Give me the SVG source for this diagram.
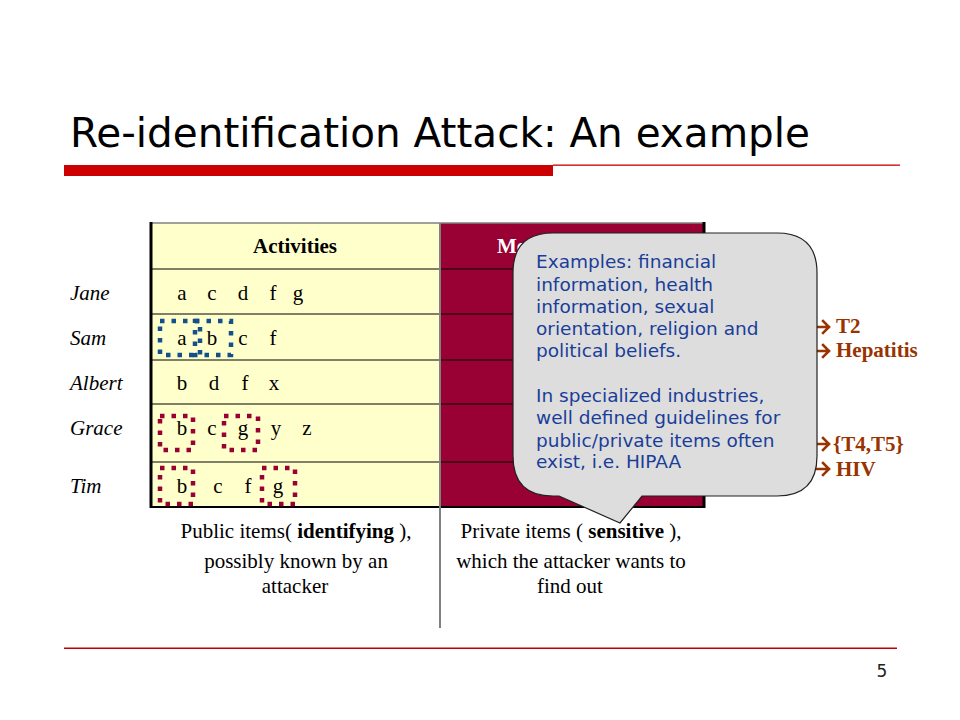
<svg xmlns="http://www.w3.org/2000/svg" width="960" height="720" viewBox="0 0 960 720">
<defs>
<style>
.serif{font-family:"Liberation Serif","Times New Roman",serif;font-size:21px;fill:#000}
.lbl{font-style:italic}
.item{text-anchor:middle}
.hdr{font-weight:bold;text-anchor:middle}
.cap{text-anchor:middle}
.res{font-family:"Liberation Serif","Times New Roman",serif;font-size:21px;font-weight:bold;fill:#993300}
.call{font-family:"DejaVu Sans",Verdana,sans-serif;font-size:18.5px;fill:#1A3D99}
.dotb{fill:none;stroke:#12508C;stroke-width:4.5;stroke-dasharray:4.5 7}
.dotr{fill:none;stroke:#990033;stroke-width:4.5;stroke-dasharray:4.5 7}
.arr{fill:none;stroke:#993300;stroke-width:2.5;stroke-linecap:square}
</style>
</defs>
<rect width="960" height="720" fill="#fff"/>
<g id="title">
<text x="70" y="147" font-family="DejaVu Sans, Verdana, sans-serif" font-size="40" textLength="740" lengthAdjust="spacingAndGlyphs" fill="#000">Re-identification Attack: An example</text>
<rect x="64" y="165" width="489" height="11" fill="#CC0000"/>
<rect x="553" y="164.5" width="347" height="1.3" fill="#CC0000"/>
</g>
<g id="table">
<rect x="151" y="223" width="289" height="284" fill="#FFFFCC"/>
<rect x="440" y="223" width="265" height="284" fill="#990033"/>
<g stroke="#000" stroke-width="1">
<line x1="151" y1="269" x2="705" y2="269"/>
<line x1="151" y1="314" x2="705" y2="314"/>
<line x1="151" y1="360" x2="705" y2="360"/>
<line x1="151" y1="404" x2="705" y2="404"/>
<line x1="151" y1="462" x2="705" y2="462"/>
</g>
<line x1="151" y1="223" x2="705" y2="223" stroke="#808080" stroke-width="1.5"/>
<line x1="151" y1="507" x2="705" y2="507" stroke="#000" stroke-width="2"/>
<line x1="151" y1="222" x2="151" y2="508" stroke="#000" stroke-width="3"/>
<line x1="704" y1="222" x2="704" y2="508" stroke="#000" stroke-width="3"/>
<line x1="440" y1="223" x2="440" y2="628" stroke="#808080" stroke-width="2"/>
<text class="serif hdr" x="295" y="253">Activities</text>
<text class="serif" x="497" y="253" font-weight="bold" style="fill:#fff">Me</text>
</g>
<g id="row-labels">
<text class="serif lbl" x="70" y="300">Jane</text>
<text class="serif lbl" x="70" y="345">Sam</text>
<text class="serif lbl" x="70" y="390">Albert</text>
<text class="serif lbl" x="70" y="435">Grace</text>
<text class="serif lbl" x="70" y="493">Tim</text>
</g>
<g id="items">
<g id="jane-items">
<text class="serif item" x="182" y="300">a</text><text class="serif item" x="212" y="300">c</text><text class="serif item" x="243" y="300">d</text><text class="serif item" x="273" y="300">f</text><text class="serif item" x="298" y="300">g</text>
</g>
<g id="sam-items">
<text class="serif item" x="182" y="345">a</text><text class="serif item" x="212" y="345">b</text><text class="serif item" x="243" y="345">c</text><text class="serif item" x="273" y="345">f</text>
</g>
<g id="albert-items">
<text class="serif item" x="182" y="390">b</text><text class="serif item" x="214" y="390">d</text><text class="serif item" x="245" y="390">f</text><text class="serif item" x="274" y="390">x</text>
</g>
<g id="grace-items">
<text class="serif item" x="182" y="435">b</text><text class="serif item" x="212" y="435">c</text><text class="serif item" x="243" y="435">g</text><text class="serif item" x="276" y="435">y</text><text class="serif item" x="307" y="435">z</text>
</g>
<g id="tim-items">
<text class="serif item" x="182" y="493">b</text><text class="serif item" x="218" y="493">c</text><text class="serif item" x="248" y="493">f</text><text class="serif item" x="278" y="493">g</text>
</g>
</g>
<g id="highlights">
<rect class="dotb" x="160" y="321" width="40" height="34"/>
<rect class="dotb" x="195" y="321" width="36" height="34"/>
<rect class="dotr" x="160" y="416" width="33" height="34"/>
<rect class="dotr" x="224" y="416" width="34" height="34"/>
<rect class="dotr" x="160" y="468" width="33" height="36"/>
<rect class="dotr" x="262" y="468" width="33" height="36"/>
</g>
<g id="captions">
<text class="serif cap" x="296" y="538">Public items( <tspan font-weight="bold">identifying</tspan> ),</text>
<text class="serif cap" x="296" y="568">possibly known by an</text>
<text class="serif cap" x="295" y="593">attacker</text>
<text class="serif cap" x="571" y="538">Private items ( <tspan font-weight="bold">sensitive</tspan> ),</text>
<text class="serif cap" x="571" y="568">which the attacker wants to</text>
<text class="serif cap" x="570" y="593">find out</text>
</g>
<g id="results">
<path class="arr" d="M817 327 H829 M823 321 L829 327 L823 333"/>
<path class="arr" d="M817 351 H829 M823 345 L829 351 L823 357"/>
<path class="arr" d="M817 444 H829 M823 438 L829 444 L823 450"/>
<path class="arr" d="M817 469 H829 M823 463 L829 469 L823 475"/>
<text class="res" x="836" y="333">T2</text>
<text class="res" x="836" y="357">Hepatitis</text>
<text class="res" x="833" y="451">{T4,T5}</text>
<text class="res" x="836" y="476">HIV</text>
</g>
<g id="callout">
<path d="M553 233 H777 Q817 233 817 273 V456 Q817 496 777 496 H642 L620 523 L559 496 H553 Q513 496 513 456 V273 Q513 233 553 233 Z" fill="#DDDDDD" stroke="#222" stroke-width="1.2"/>
<text class="call" x="536" y="268">Examples: financial</text>
<text class="call" x="536" y="291">information, health</text>
<text class="call" x="536" y="313">information, sexual</text>
<text class="call" x="536" y="335">orientation, religion and</text>
<text class="call" x="536" y="357">political beliefs.</text>
<text class="call" x="536" y="402">In specialized industries,</text>
<text class="call" x="536" y="424">well defined guidelines for</text>
<text class="call" x="536" y="447">public/private items often</text>
<text class="call" x="536" y="468">exist, i.e. HIPAA</text>
</g>
<g id="footer">
<rect x="64" y="647.5" width="833" height="1.5" fill="#C00000"/>
<text x="882" y="677" font-family="DejaVu Sans, Verdana, sans-serif" font-size="17" text-anchor="middle" fill="#222">5</text>
</g>
</svg>
